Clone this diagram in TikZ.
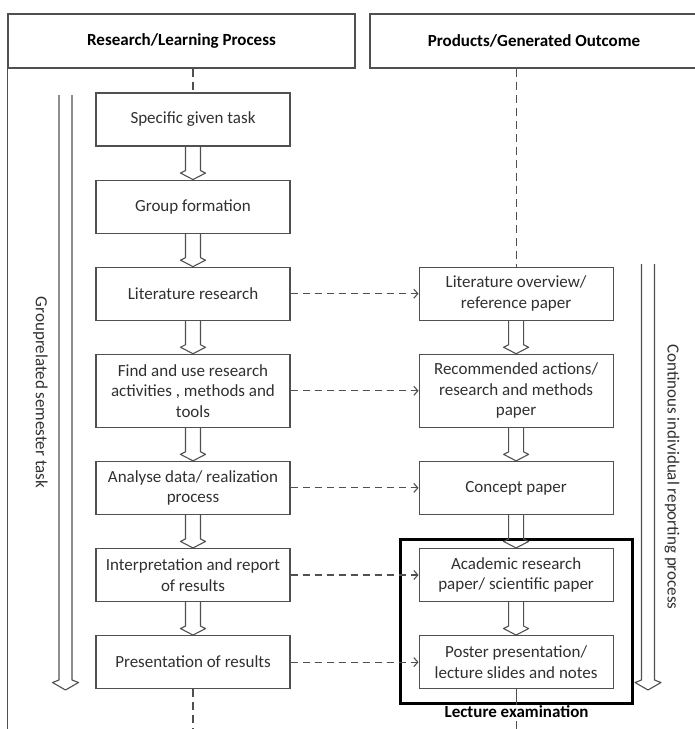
\documentclass[tikz,border=0pt]{standalone}
\usepackage{fontspec}
\setmainfont{Carlito}
\usetikzlibrary{arrows.meta,positioning,fit,calc}
\definecolor{FlowLine}{HTML}{505050}
\definecolor{FlowText}{HTML}{303030}
\tikzset{
  box/.style={draw=FlowLine, line width=1.1pt, align=center, minimum width=194pt,
              minimum height=53pt, inner sep=2pt, text=FlowText,
              font=\fontsize{17}{20.5}\selectfont},
  tallbox/.style={box, minimum height=73pt},
  headbox/.style={box, minimum height=54pt, text=black,
                  font=\fontsize{17}{20.5}\selectfont\bfseries},
  % hollow block arrow: shaft half width, head half width, head length
  hollow/.style n args={3}{draw=FlowLine, line width=1.1pt, line join=round,
    to path={let \p1=(\tikztostart), \p2=(\tikztotarget) in
      (\x1-#1,\y1) -- (\x1-#1,\y2+#3) -- (\x1-#2,\y2+#3-2.5pt) -- (\x1,\y2)
      -- (\x1+#2,\y2+#3-2.5pt) -- (\x1+#1,\y2+#3) -- (\x1+#1,\y1)}},
  stepflow/.style={hollow={7.5pt}{12.5pt}{9pt}},
  sideflow/.style={hollow={6.5pt}{13pt}{10pt}},
  link/.style={draw=FlowLine, line width=1.1pt, dash pattern=on 7pt off 5pt,
               -{Straight Barb[length=4pt,width=9pt]}},
  guide/.style={draw=FlowLine, line width=1.1pt, dash pattern=on 8pt off 5pt},
  exam/.style={draw=black, line width=3pt, inner sep=0pt},
  sidelabel/.style={rotate=-90, text=FlowText, font=\fontsize{17}{20.5}\selectfont}
}

\begin{document}
\begin{tikzpicture}[x=1pt, y=1pt, node distance=33pt and 128pt]
  \useasboundingbox (0,0) rectangle (695,-729);
  \coordinate (bot) at (0,-729);
  % column headers
  \node[headbox, minimum width=347pt] (lhead) at (181.5,-41) {Research/Learning Process};
  \node[headbox, minimum width=328pt] (rhead) at (534,-41) {Products/Generated Outcome};
  \draw[FlowLine, line width=1.1pt] (lhead.north west) -- (lhead.north west |- bot);
  % research / learning process
  \node[box] (task) at (193,-119.5) {Specific given task};
  \node[box, below=of task] (group) {Group formation};
  \node[box, below=of group] (lit) {Literature research};
  \node[tallbox, below=of lit] (find) {Find and use research\\activities , methods and\\tools};
  \node[box, below=of find] (analyse) {Analyse data/ realization\\process};
  \node[box, below=of analyse] (interp) {Interpretation and report\\of results};
  \node[box, below=of interp] (present) {Presentation of results};
  % products / generated outcome
  \node[box, right=of lit] (litov) {Literature overview/\\reference paper};
  \node[tallbox, right=of find] (recom) {Recommended actions/\\research and methods\\paper};
  \node[box, right=of analyse] (concept) {Concept paper};
  \node[box, right=of interp] (acad) {Academic research\\paper/ scientific paper};
  \node[box, right=of present] (poster) {Poster presentation/\\lecture slides and notes};
  % examination frame
  \coordinate (examnw) at ($(acad.north west)+(-18,8)$);
  \coordinate (examse) at ($(poster.south east)+(19,-14)$);
  \node[exam, fit=(examnw) (examse)] (exam) {};
  \node[below=-3pt of exam, text=black, font=\fontsize{17}{20.5}\selectfont\bfseries] (lecture) {Lecture examination};
  % guide lines
  \draw[guide] (task.north |- lhead.south) -- (task.north);
  \draw[guide] (litov.north |- rhead.south) -- (litov.north);
  \draw[guide] (present.south) -- (present.south |- bot);
  \draw[guide] (lecture.south) -- (lecture.south |- bot);
  \draw[FlowLine, line width=1.1pt] (poster.south) -- (poster.south |- exam.south);
  % hollow arrows
  \foreach \a/\b in {task/group, group/lit, lit/find, find/analyse, analyse/interp,
                     interp/present, litov/recom, recom/concept, concept/acad, acad/poster}
    \draw[stepflow] (\a.south) to (\b.north);
  % dashed links
  \foreach \a/\b in {lit/litov, find/recom, analyse/concept, interp/acad, present/poster}
    \draw[link] (\a) -- (\b);
  % side arrows
  \coordinate (gtop) at (65.5,-95);
  \coordinate (gend) at (65.5,-690);
  \coordinate (ctop) at (648,-264);
  \coordinate (cend) at (648,-690);
  \draw[sideflow] (gtop) to (gend);
  \draw[sideflow] (ctop) to (cend);
  \node[sidelabel] (glabel) at ($(gtop)!0.5!(gend)+(-25,0)$) {Grouprelated semester task};
  \node[sidelabel] (clabel) at ($(ctop)!0.5!(cend)+(24,0)$) {Continous individual reporting process};
\end{tikzpicture}
\end{document}
